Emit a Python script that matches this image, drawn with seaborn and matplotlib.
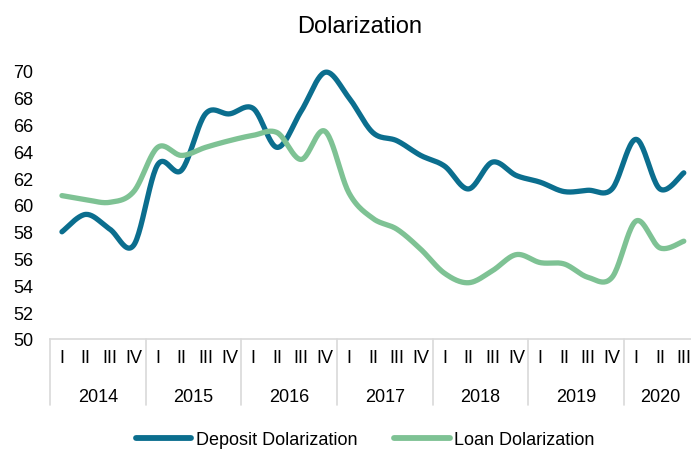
import numpy as np
import pandas as pd
import matplotlib
matplotlib.use('Agg')
import matplotlib.pyplot as plt
from matplotlib.lines import Line2D
import seaborn as sns

# quarterly series, 2014 Q1 .. 2020 Q3
years = ['2014', '2015', '2016', '2017', '2018', '2019', '2020']
quarters = ['I', 'II', 'III', 'IV']
deposit = [58.0, 59.3, 58.2, 57.0, 63.0, 62.6, 66.8, 66.8, 67.2, 64.3, 67.0, 69.9,
           68.0, 65.4, 64.8, 63.7, 62.9, 61.2, 63.2, 62.2, 61.7, 61.0, 61.1, 61.2,
           64.9, 61.2, 62.4]
loan = [60.7, 60.4, 60.2, 61.0, 64.3, 63.7, 64.3, 64.8, 65.2, 65.4, 63.4, 65.5,
        60.9, 59.0, 58.2, 56.7, 54.9, 54.2, 55.1, 56.3, 55.7, 55.6, 54.6, 54.6,
        58.8, 56.8, 57.3]

n = len(deposit)
q_labels = [quarters[i % 4] for i in range(n)]
x = np.arange(n)

c_dep = '#0B6E8E'
c_loan = '#7EC294'
grid_c = '#D9D9D9'


def smooth(xs, ys, steps=24):
    # catmull-rom curve through the points (like excel "smoothed line")
    xs = np.asarray(xs, float)
    ys = np.asarray(ys, float)
    px = np.concatenate([[xs[0]], xs, [xs[-1]]])
    py = np.concatenate([[ys[0]], ys, [ys[-1]]])
    ox, oy = [], []
    t = np.linspace(0, 1, steps, endpoint=False)
    for i in range(1, len(px) - 2):
        for arr, out in ((px, ox), (py, oy)):
            p0, p1, p2, p3 = arr[i - 1], arr[i], arr[i + 1], arr[i + 2]
            out.extend(0.5 * ((2 * p1) + (-p0 + p2) * t
                              + (2 * p0 - 5 * p1 + 4 * p2 - p3) * t ** 2
                              + (-p0 + 3 * p1 - 3 * p2 + p3) * t ** 3))
    ox.append(xs[-1])
    oy.append(ys[-1])
    return np.array(ox), np.array(oy)


frames = []
for name, vals in [('Deposit Dolarization', deposit), ('Loan Dolarization', loan)]:
    sx, sy = smooth(x, vals)
    frames.append(pd.DataFrame({'x': sx, 'value': sy, 'series': name}))
df = pd.concat(frames, ignore_index=True)

sns.set_style('white')
plt.rcParams['font.family'] = ['Liberation Sans', 'DejaVu Sans']
plt.rcParams['text.color'] = 'black'
plt.rcParams['xtick.color'] = 'black'
plt.rcParams['ytick.color'] = 'black'

fig = plt.figure(figsize=(6.91, 4.52), dpi=100)
ax = fig.add_axes([50 / 691, 1 - 340 / 452, 645.75 / 691, 268 / 452])

sns.lineplot(data=df, x='x', y='value', hue='series', sort=False,
             palette=[c_dep, c_loan], linewidth=3.8, ax=ax, legend=False,
             estimator=None)
for ln in ax.lines:
    ln.set_clip_on(False)
    ln.set_solid_capstyle('round')

ax.set_xlim(-0.5, n - 0.5)
ax.set_ylim(50, 70)
ax.set_yticks(range(50, 71, 2))
ax.tick_params(axis='y', length=0, pad=12, labelsize=13, labelcolor='black')
ax.set_xticks(x)
ax.set_xticklabels(q_labels)
ax.tick_params(axis='x', length=0, pad=7.5, labelsize=13, labelcolor='black')
ax.set_xlabel('')
ax.set_ylabel('')

for s in ['top', 'right', 'left']:
    ax.spines[s].set_visible(False)
ax.spines['bottom'].set_color(grid_c)
ax.spines['bottom'].set_linewidth(1.2)

trans = ax.get_xaxis_transform()
for k in range(len(years) + 1):
    xs = -0.5 + 4 * k
    ax.plot([xs, xs], [0, -0.246], color=grid_c, lw=1.2, transform=trans,
            clip_on=False)
for k, yr in enumerate(years):
    last = min(4 * k + 3, n - 1)
    xc = (4 * k + last) / 2
    ax.text(xc, -0.230, yr, transform=trans, ha='center', va='baseline',
            fontsize=13, color='black')

fig.text(360 / 691, 1 - 33.3 / 452, 'Dolarization', ha='center',
         va='baseline', fontsize=17, color='black')

handles = [Line2D([], [], color=c_dep, lw=4.2, solid_capstyle='round'),
           Line2D([], [], color=c_loan, lw=4.2, solid_capstyle='round')]
fig.legend(handles, ['Deposit Dolarization', 'Loan Dolarization'],
           loc='center', bbox_to_anchor=(365 / 691, 1 - 441 / 452), ncol=2,
           frameon=False, fontsize=13, handlelength=3.1, handletextpad=0.25,
           columnspacing=2.0, borderaxespad=0, borderpad=0,
           labelcolor='black')

fig.savefig('out.png', dpi=100)
